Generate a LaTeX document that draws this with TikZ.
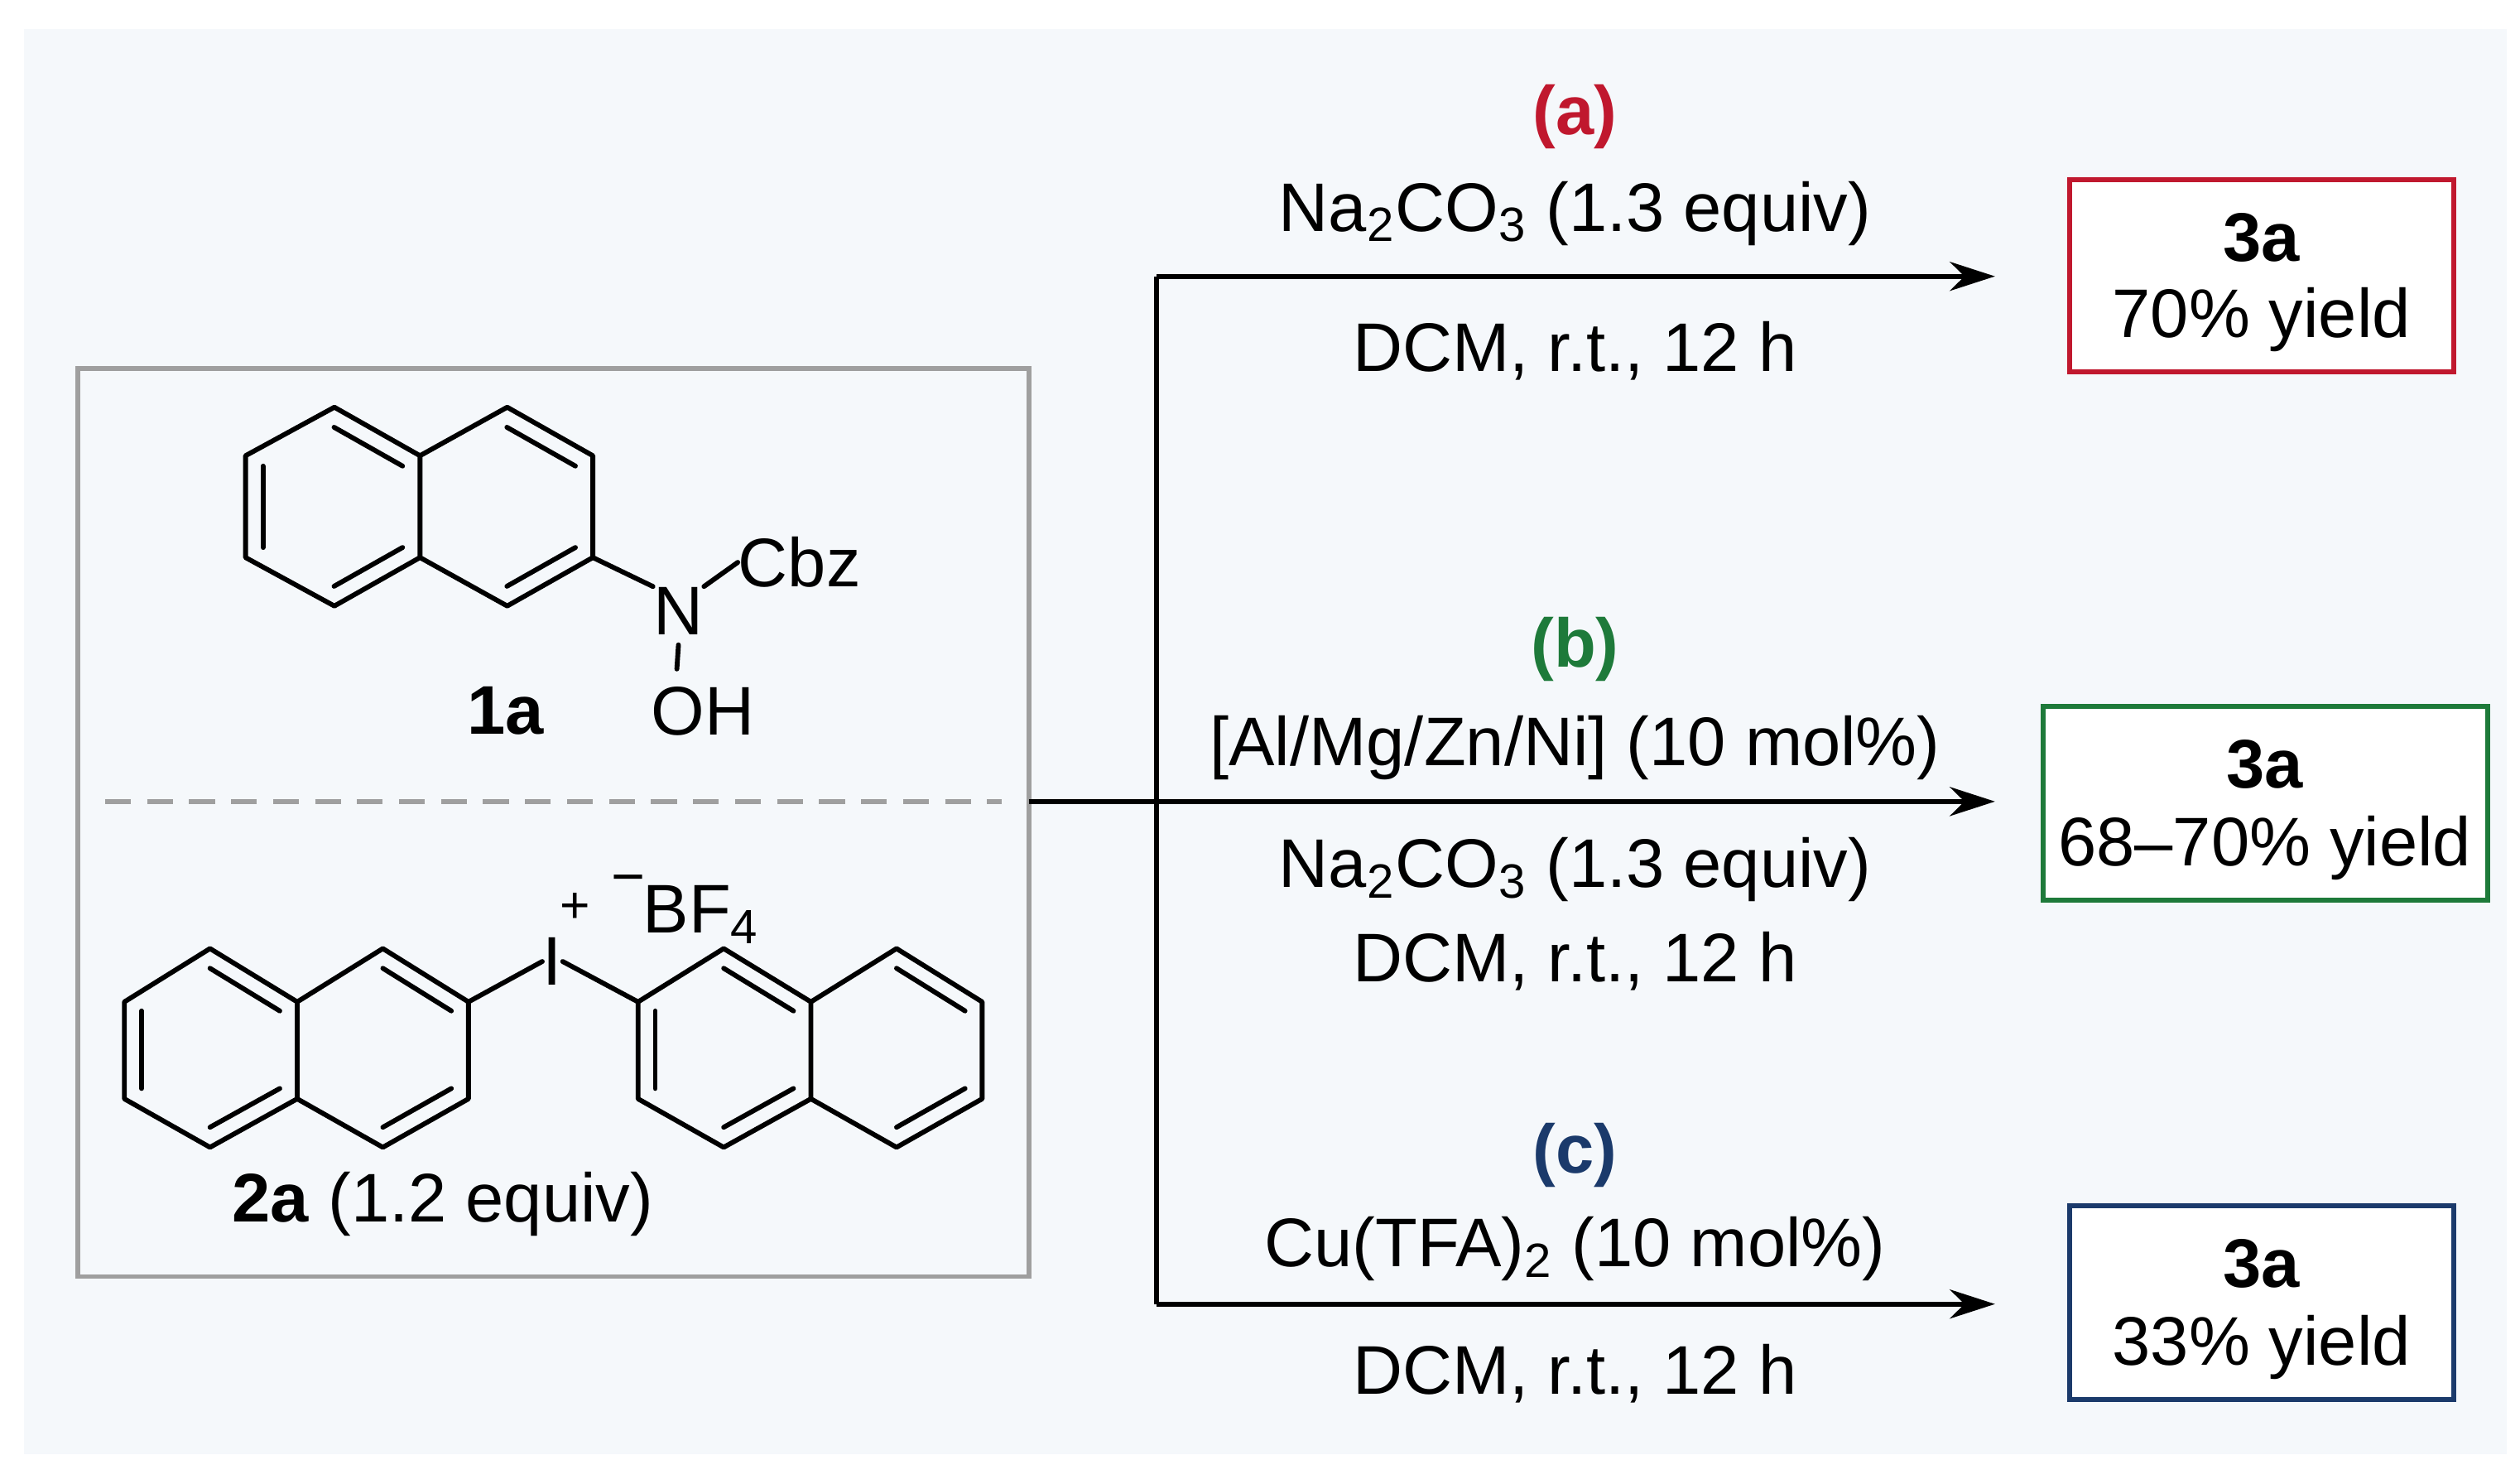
\documentclass[tikz,border=0pt]{standalone}
\usepackage{fontspec}
\setmainfont{Liberation Sans}
\usetikzlibrary{calc,arrows.meta}
\definecolor{bg}{HTML}{F5F8FB}
\definecolor{cred}{HTML}{C0182E}
\definecolor{cgreen}{HTML}{1E7A3A}
\definecolor{cblue}{HTML}{1B3A6B}
\newcommand{\dbl}[3]{\draw[bond] ($(#1)!.2!(#3)$) -- ($(#2)!.2!(#3)$);}
\begin{document}
\begin{tikzpicture}[x=0.5pt,y=-0.5pt,
  txt/.style={font=\fontsize{21.3}{24}\selectfont,inner sep=0pt},
  bond/.style={line width=1.5pt,line cap=round,line join=round},
  arr/.style={line width=1.5pt,-{Stealth[length=14pt,width=9pt]}},
  pbox/.style={draw,line width=1.5pt,fill=white}]
\useasboundingbox (0,0) rectangle (1560,918);
\fill[bg] (15,18) rectangle (1552,900);
\draw[line width=1.5pt,gray!75] (48,228) rectangle (637,790);
\draw[line width=1.5pt,gray!75,dashed,dash pattern=on 8pt off 5pt] (65,496) -- (620,496);
% connectors
\coordinate (j) at (637,496);
\coordinate (t) at (716,171);
\coordinate (m) at (716,496);
\coordinate (b) at (716,807);
\draw[line width=1.5pt] (j) -- (m);
\draw[line width=1.5pt] (t) -- (b);
\coordinate (ta) at (1235,171);
\coordinate (ma) at (1235,496);
\coordinate (ba) at (1235,807);
\draw[arr] (t) -- (ta);
\draw[arr] (m) -- (ma);
\draw[arr] (b) -- (ba);
% labels
\node[txt,text=cred,font=\fontsize{21.3}{24}\selectfont\bfseries] (la) at (975,72) {(a)};
\node[txt] (a1) at (975,132) {Na\textsubscript{2}CO\textsubscript{3} (1.3 equiv)};
\node[txt] (a2) at (975,217) {DCM, r.t., 12 h};
\node[txt,text=cgreen,font=\fontsize{21.3}{24}\selectfont\bfseries] (lb) at (975,402) {(b)};
\node[txt] (b1) at (975,463) {[Al/Mg/Zn/Ni] (10 mol\%)};
\node[txt] (b2) at (975,538) {Na\textsubscript{2}CO\textsubscript{3} (1.3 equiv)};
\node[txt] (b3) at (975,595) {DCM, r.t., 12 h};
\node[txt,text=cblue,font=\fontsize{21.3}{24}\selectfont\bfseries] (lc) at (975,715) {(c)};
\node[txt] (c1) at (975,773) {Cu(TFA)\textsubscript{2} (10 mol\%)};
\node[txt] (c2) at (975,850) {DCM, r.t., 12 h};
% product boxes
\draw[pbox,draw=cred] (1281,111) rectangle (1519,230);
\node[txt,font=\fontsize{21.3}{24}\selectfont\bfseries] (p1) at (1400,147) {3a};
\node[txt] (p1y) at (1400,198) {70\% yield};
\draw[pbox,draw=cgreen] (1265,437) rectangle (1540,557);
\node[txt,font=\fontsize{21.3}{24}\selectfont\bfseries] (p2) at (1402,473) {3a};
\node[txt] (p2y) at (1402,525) {68–70\% yield};
\draw[pbox,draw=cblue] (1281,746) rectangle (1519,866);
\node[txt,font=\fontsize{21.3}{24}\selectfont\bfseries] (p3) at (1400,782) {3a};
\node[txt] (p3y) at (1400,834) {33\% yield};
% 1a naphthalene
\foreach \n/\x/\y in {A/152/282,B/207/252,C/260/282,D/260/345,E/207/375,F/152/345,G/314/252,H/367/282,I/367/345,J/314/375}
  \coordinate (\n) at (\x,\y);
\coordinate (c1c) at (206,314); \coordinate (c2c) at (313,314);
\draw[bond] (A)--(B)--(C)--(D)--(E)--(F)--cycle (C)--(G)--(H)--(I)--(J)--(D);
\dbl{B}{C}{c1c}\dbl{D}{E}{c1c}\dbl{F}{A}{c1c}\dbl{G}{H}{c2c}\dbl{I}{J}{c2c}
\node[txt,font=\fontsize{21.3}{24}\selectfont] (N) at (420,378) {N};
\node[txt,font=\fontsize{21.3}{24}\selectfont] (Cbz) at (495,348) {Cbz};
\node[txt,font=\fontsize{21.3}{24}\selectfont] (OH) at (435,440) {OH};
\node[txt,font=\fontsize{21.3}{24}\selectfont\bfseries] (l1a) at (313,440) {1a};
\draw[bond] (I) -- (N.north west);
\draw[bond] (N.north east) -- (Cbz.west);
\draw[bond] (N.south) ++(0,6) -- (419,414);
% 2a
\foreach \n/\x/\y in {a/77/620,b/130/587,c/184/620,d/184/680,e/130/710,f/77/680,g/237/587,h/290/620,i/290/680,k/237/710,
  p/395/620,q/448/587,r/502/620,s/502/680,u/448/710,v/395/680,w/555/587,x/608/620,y/608/680,z/555/710}
  \coordinate (\n) at (\x,\y);
\coordinate (k1) at (130,648); \coordinate (k2) at (237,648);
\coordinate (k3) at (448,648); \coordinate (k4) at (555,648);
\draw[bond] (a)--(b)--(c)--(d)--(e)--(f)--cycle (c)--(g)--(h)--(i)--(k)--(d);
\draw[bond] (p)--(q)--(r)--(s)--(u)--(v)--cycle (r)--(w)--(x)--(y)--(z)--(s);
\dbl{b}{c}{k1}\dbl{d}{e}{k1}\dbl{f}{a}{k1}\dbl{g}{h}{k2}\dbl{i}{k}{k2}
\dbl{q}{r}{k3}\dbl{s}{u}{k3}\dbl{v}{p}{k3}\dbl{w}{x}{k4}\dbl{y}{z}{k4}
\node[txt,font=\fontsize{21.3}{24}\selectfont] (Io) at (342,595) {I};
\draw[bond] (h) -- (Io.west);
\draw[bond] (Io.east) -- (p);
\node[txt,font=\fontsize{16}{18}\selectfont] (plus) at (356,562) {+};
\node[txt,font=\fontsize{18}{20}\selectfont] (minus) at (389,548) {−};
\node[txt,font=\fontsize{21.3}{24}\selectfont] (BF) at (434,566) {BF\textsubscript{4}};
\node[txt,font=\fontsize{21.3}{24}\selectfont] (l2a) at (274,745) {\textbf{2a} (1.2 equiv)};
\end{tikzpicture}
\end{document}
